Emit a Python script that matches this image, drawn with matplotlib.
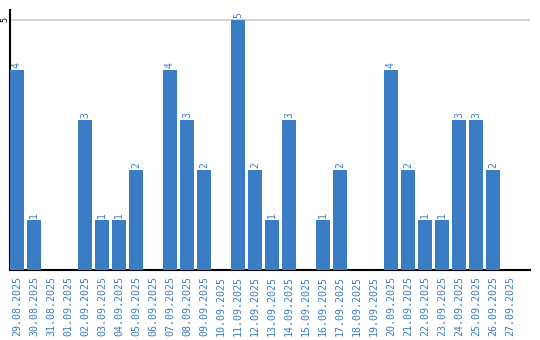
import matplotlib
matplotlib.use("Agg")
import matplotlib.pyplot as plt

dates = ["29.08.2025", "30.08.2025", "31.08.2025", "01.09.2025", "02.09.2025",
         "03.09.2025", "04.09.2025", "05.09.2025", "06.09.2025", "07.09.2025",
         "08.09.2025", "09.09.2025", "10.09.2025", "11.09.2025", "12.09.2025",
         "13.09.2025", "14.09.2025", "15.09.2025", "16.09.2025", "17.09.2025",
         "18.09.2025", "19.09.2025", "20.09.2025", "21.09.2025", "22.09.2025",
         "23.09.2025", "24.09.2025", "25.09.2025", "26.09.2025", "27.09.2025"]
values = [4, 1, 0, 0, 3, 1, 1, 2, 0, 4, 3, 2, 0, 5, 2, 1, 3, 0, 1, 2,
          0, 0, 4, 2, 1, 1, 3, 3, 2, 0]

bar_color = "#3b7dc4"
label_color = "#3b7dc4"

fig = plt.figure(figsize=(5.4, 3.4), dpi=100)
ax = fig.add_axes([10/540, 1 - 270/340, 520/540, 260/340])

x = list(range(len(values)))
bw = 0.82
ax.bar(x, values, width=bw, color=bar_color, zorder=3)
ax.set_xlim(-bw/2, 29 + 20/17)
ax.set_ylim(0, 5.2)

ax.set_yticks([5])
ax.set_yticklabels(["5"], rotation=90, fontsize=6, family="DejaVu Sans Mono")
for lbl in ax.get_yticklabels():
    lbl.set_horizontalalignment("center")
    lbl.set_verticalalignment("center")
ax.yaxis.grid(True, color="#cccccc", linewidth=1.2, zorder=0)
ax.tick_params(axis="y", length=0, pad=3.6)

ax.set_xticks(x)
ax.set_xticklabels(dates, rotation=90, fontsize=7.2, color=label_color,
                   family="DejaVu Sans Mono")
ax.tick_params(axis="x", length=0, pad=4)

for s in ["top", "right"]:
    ax.spines[s].set_visible(False)
ax.spines["left"].set_linewidth(1.5)
ax.spines["bottom"].set_linewidth(1.5)

for xi, v in zip(x, values):
    if v > 0:
        ax.text(xi, v + 0.04, str(v), rotation=90, ha="center", va="bottom",
                fontsize=7, color=label_color, family="DejaVu Sans Mono")

fig.savefig("out.png", dpi=100)
